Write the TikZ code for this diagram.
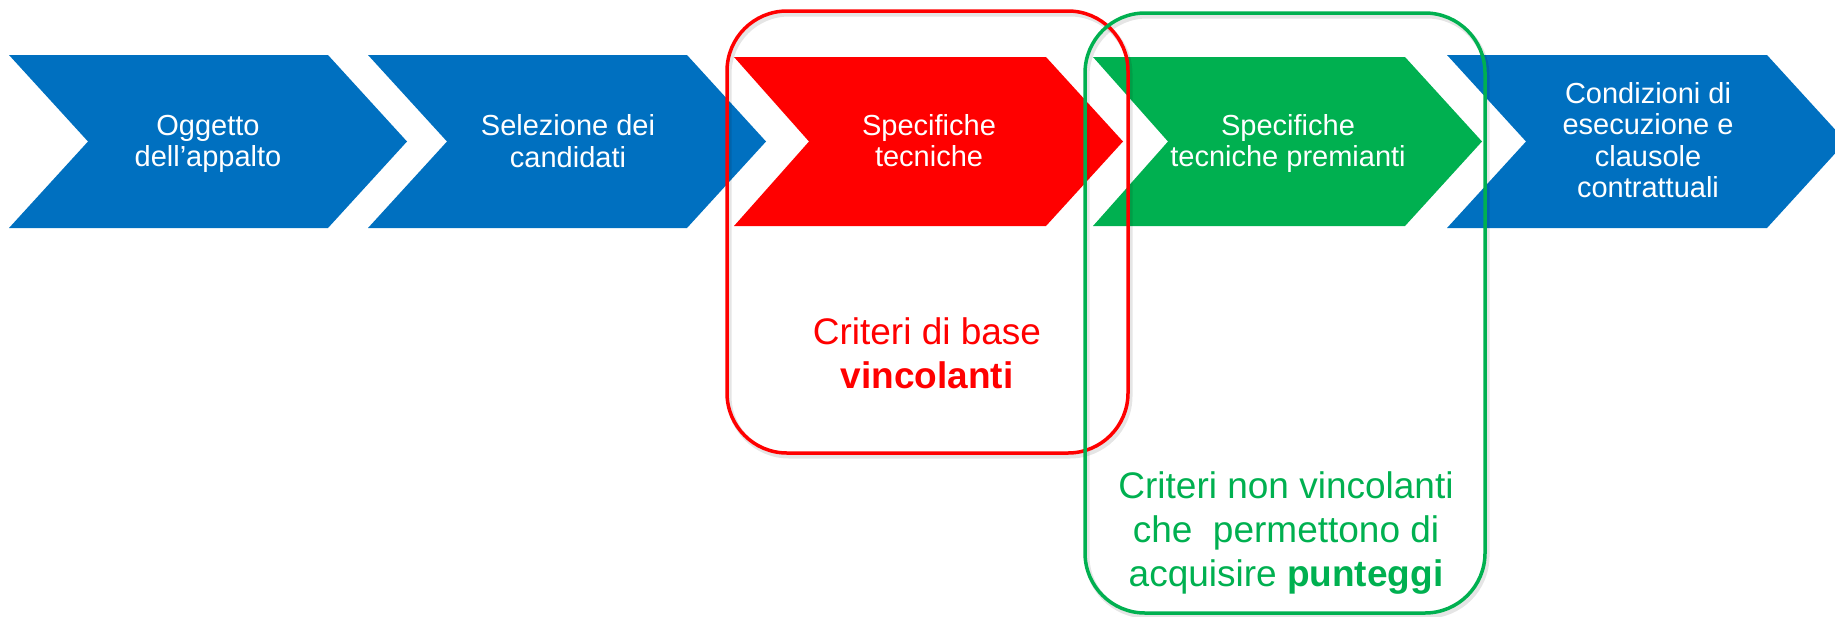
\documentclass[tikz,border=0pt]{standalone}
\usepackage{fontspec}
\setmainfont{Liberation Sans}
\definecolor{cblue}{HTML}{0070C0}
\definecolor{cred}{HTML}{FF0000}
\definecolor{cgreen}{HTML}{00B050}
\begin{document}
\begin{tikzpicture}[x=1pt,y=-1pt,
  chevtext/.style={text=white, align=center, inner sep=0pt, font=\fontsize{29}{31.5}\selectfont},
  boxtext/.style={align=center, inner sep=0pt, font=\fontsize{37}{44}\selectfont},
  frame/.style={line width=3.5pt, rounded corners=60pt},
  frameshadow/.style={line width=5pt, rounded corners=60pt, draw=black, opacity=0.10}]
\useasboundingbox (0,0) rectangle (1835,616);
\clip (0,0) rectangle (1835,616);
% chevrons
\fill[cblue] (9,55) -- (328,55) -- (407,141.5) -- (328,228) -- (9,228) -- (88,141.5) -- cycle;
\fill[cblue] (368,55) -- (687,55) -- (766,141.5) -- (687,228) -- (368,228) -- (447,141.5) -- cycle;
\fill[cred] (734,57) -- (1046,57) -- (1123,141.5) -- (1046,226) -- (734,226) -- (809,141.5) -- cycle;
\fill[cgreen] (1093,57) -- (1405,57) -- (1482,141.5) -- (1405,226) -- (1093,226) -- (1168,141.5) -- cycle;
\fill[cblue] (1447,55) -- (1767,55) -- (1846,141.5) -- (1767,228) -- (1447,228) -- (1526,141.5) -- cycle;
% chevron texts
\node[chevtext] (t1) at (208,144) {Oggetto\\dell’appalto};
\node[chevtext] (t2) at (568,141) {Selezione dei\\candidati};
\node[chevtext] (t3) at (929,140.5) {Specifiche\\tecniche};
\node[chevtext] (t4) at (1288,143.5) {Specifiche\\tecniche premianti};
\node[chevtext] (t5) at (1648,140) {Condizioni di\\esecuzione e\\clausole\\contrattuali};
% frames
\draw[frameshadow] (729,14) rectangle (1130,456);
\draw[frameshadow] (1087,16) rectangle (1487,616);
\draw[frame, draw=cred] (727,11) rectangle (1128,453);
\draw[frame, draw=cgreen] (1085,13) rectangle (1485,613);
% frame texts
\node[boxtext, text=cred] (rb) at (927,353.5) {Criteri di base\\{\bfseries vincolanti}};
\node[boxtext, text=cgreen] (gb) at (1286,533.5) {Criteri non vincolanti\\che\ \ permettono di\\acquisire {\bfseries punteggi}};
\end{tikzpicture}
\end{document}
